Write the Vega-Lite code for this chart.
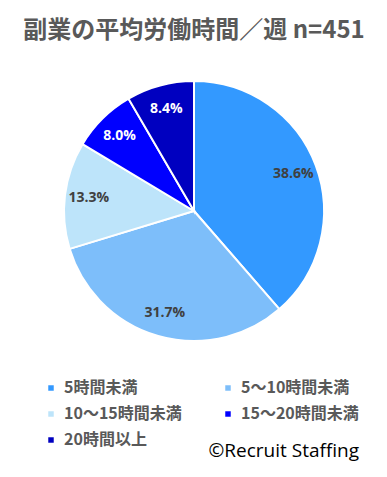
{
  "$schema": "https://vega.github.io/schema/vega-lite/v6.json",
  "width": 262,
  "height": 262,
  "autosize": {"type": "none"},
  "padding": {"left": 63, "top": 80, "right": 62, "bottom": 135},
  "background": "white",
  "title": {
    "text": "副業の平均労働時間／週 n=451",
    "font": "Noto Sans CJK JP",
    "fontSize": 24,
    "fontWeight": "bold",
    "color": "#595959",
    "anchor": "middle",
    "offset": 34
  },
  "data": {
    "values": [
      {"category": "5時間未満", "value": 0.386, "order": 1},
      {"category": "5～10時間未満", "value": 0.317, "order": 2},
      {"category": "10～15時間未満", "value": 0.133, "order": 3},
      {"category": "15～20時間未満", "value": 0.080, "order": 4},
      {"category": "20時間以上", "value": 0.084, "order": 5}
    ]
  },
  "encoding": {
    "theta": {"field": "value", "type": "quantitative", "stack": true},
    "order": {"field": "order", "type": "quantitative"}
  },
  "layer": [
    {
      "mark": {"type": "arc", "outerRadius": 130, "stroke": "white", "strokeWidth": 2},
      "encoding": {
        "color": {
          "field": "category",
          "type": "nominal",
          "sort": ["5時間未満", "5～10時間未満", "10～15時間未満", "15～20時間未満", "20時間以上"],
          "scale": {
            "domain": ["5時間未満", "5～10時間未満", "10～15時間未満", "15～20時間未満", "20時間以上"],
            "range": ["#3399FF", "#7DBEFA", "#BDE4FA", "#0000FF", "#0000C0"]
          },
          "legend": {
            "orient": "none",
            "legendX": -20,
            "legendY": 300,
            "direction": "horizontal",
            "columns": 2,
            "columnPadding": 38,
            "rowPadding": 10,
            "symbolType": "square",
            "symbolSize": 30,
            "symbolStrokeWidth": 0,
            "labelOffset": 5,
            "labelFont": "Noto Sans CJK JP",
            "labelFontSize": 16,
            "labelFontWeight": "bold",
            "labelColor": "#595959",
            "labelLimit": 200,
            "title": "©Recruit Staffing",
            "titleOrient": "bottom",
            "titleAnchor": "end",
            "titleFont": "Open Sans",
            "titleFontSize": 19,
            "titleFontWeight": "normal",
            "titleColor": "black",
            "titlePadding": -6
          }
        }
      }
    },
    {
      "mark": {"type": "text", "radius": 106, "font": "Open Sans", "fontSize": 14, "fontWeight": "bold"},
      "encoding": {
        "text": {"field": "value", "type": "quantitative", "format": ".1%"},
        "color": {
          "condition": {"test": "datum.value < 0.1", "value": "white"},
          "value": "#404040"
        }
      }
    }
  ]
}
